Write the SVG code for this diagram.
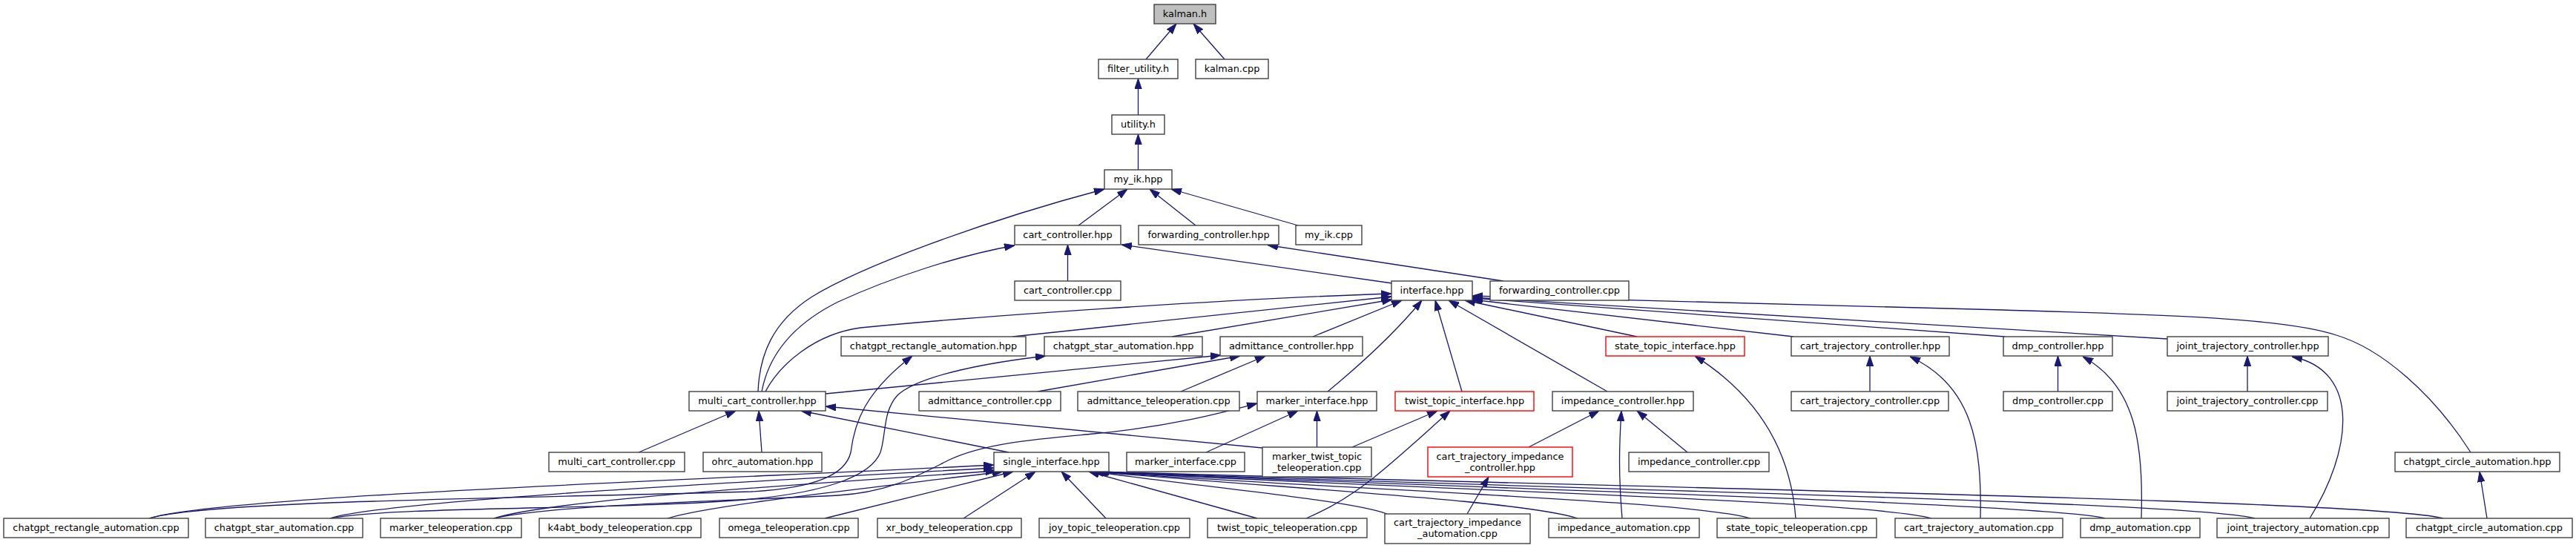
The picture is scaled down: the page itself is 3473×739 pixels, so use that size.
<svg xmlns="http://www.w3.org/2000/svg" width="3473" height="739" viewBox="0 0 3473 739">
<defs>
<style>
.node rect{fill:#ffffff;stroke:#404040;stroke-width:1.4}
.root rect{fill:#bfbfbf}
.red rect{stroke:#ff0000}
.node text{font-family:"DejaVu Sans","Liberation Sans",sans-serif;font-size:12.85px;text-anchor:middle;fill:#000000}
#edges path{fill:none;stroke:#191970;stroke-width:1.3;marker-end:url(#ah)}
</style>
<marker id="ah" viewBox="0 0 14 10" refX="14" refY="5" markerWidth="14" markerHeight="10" markerUnits="userSpaceOnUse" orient="auto">
<path d="M0,0.3 L14,5 L0,9.7 z" fill="#191970" stroke="#191970" stroke-width="1"/>
</marker>
</defs>
<rect x="0" y="0" width="3473" height="739" fill="#ffffff"/>
<g id="edges">
<path d="M1545,80 L1586,32"/>
<path d="M1651,80 L1609,32"/>
<path d="M1534.5,155 L1534.5,106"/>
<path d="M1534.5,229 L1534.5,181"/>
<path d="M1454,304 L1520,255"/>
<path d="M1612,304 L1550,255"/>
<path d="M1750,304 L1579,255"/>
<path d="M1022,528 C1024,480 1040,435 1095,400 C1160,360 1320,300 1489,255"/>
<path d="M1439.5,379 L1439.5,330"/>
<path d="M1877,382 L1512,330"/>
<path d="M1027,528 C1036,480 1068,438 1130,407 C1200,375 1290,345 1368,331"/>
<path d="M2027,379 L1709,330.5"/>
<path d="M1032,528 C1052,490 1100,450 1160,442 C1300,428 1650,403 1876,396"/>
<path d="M1365,454 L1876,400"/>
<path d="M1580,454 L1877,404"/>
<path d="M1770,454 L1890,405"/>
<path d="M1790,528 C1830,495 1880,450 1917,405"/>
<path d="M1971,528 L1935,405"/>
<path d="M2167,528 L1953,405"/>
<path d="M2207,454 L1975,405"/>
<path d="M2418,454 L1984,404"/>
<path d="M2703,454 L1985,402"/>
<path d="M2922,457 L1985,401"/>
<path d="M3331,610 C3280,530 3210,470 3150,452 C3080,428 2900,424 2700,418 L1985,399"/>
<path d="M1113,531 L1646,479"/>
<path d="M1399,528 L1672,480"/>
<path d="M1592,528 L1706,480"/>
<path d="M201,699 C280,675 700,672 1013,663 C1100,658 1140,640 1147,610 C1152,570 1165,530 1230,480"/>
<path d="M445,699 C540,682 850,688 1013,673 C1120,663 1175,640 1187,610 C1195,585 1190,555 1210,533 C1240,505 1340,488 1410,480"/>
<path d="M861,610 L992,554"/>
<path d="M1027,610 L1023,554"/>
<path d="M1360,610 L1080,554"/>
<path d="M1702,604 L1113,548"/>
<path d="M1626,610 L1750,554"/>
<path d="M1775.5,603 L1775.5,554"/>
<path d="M666,699 C750,680 1000,675 1130,668 C1200,664 1240,640 1280,620 C1330,597 1400,592 1474,585 C1580,575 1650,556 1695,544"/>
<path d="M1823,603 L1938,554"/>
<path d="M1761,699 C1830,670 1870,630 1955,554"/>
<path d="M2061,603 L2156,554"/>
<path d="M2187,699 C2182,640 2183,600 2186,554"/>
<path d="M2275,610 L2207,554"/>
<path d="M1978,693 L2007,643"/>
<path d="M2421,699 C2415,620 2380,540 2285,480"/>
<path d="M2521,528 L2521,480"/>
<path d="M2670,699 C2672,600 2660,520 2575,481"/>
<path d="M2774.5,528 L2774.5,480"/>
<path d="M2887,699 C2890,600 2880,520 2808,481"/>
<path d="M3030,528 L3030,480"/>
<path d="M3114,699 C3170,610 3185,500 3090,481"/>
<path d="M3353,699 L3343,636"/>
<path d="M201,699 C300,668 1000,645 1340,627"/>
<path d="M445,699 C520,675 1000,650 1340,631"/>
<path d="M666,699 C740,675 1050,655 1343,635"/>
<path d="M900,699 C960,680 1200,655 1352,636"/>
<path d="M1112,699 L1366,636"/>
<path d="M1299,699 L1396,636"/>
<path d="M1491,699 L1431,636"/>
<path d="M1695,699 L1468,636"/>
<path d="M1870,693 C1820,675 1650,660 1474,636"/>
<path d="M2127,699 C2050,675 1750,660 1476,636"/>
<path d="M2360,699 C2280,675 1800,660 1477,636"/>
<path d="M2604,699 C2520,675 1900,660 1478,636"/>
<path d="M2838,699 C2750,678 2000,660 1479,636"/>
<path d="M3040,699 C2950,676 2100,660 1480,636"/>
<path d="M3294,699 C3200,675 2300,660 1481,636"/>
</g>
<g id="n_kalman_h" class="node root"><rect x="1556" y="6" width="83" height="26"/><text x="1597.5" y="23">kalman.h</text></g>
<g id="n_filter_utility_h" class="node"><rect x="1481" y="80" width="107" height="26"/><text x="1534.5" y="97">filter_utility.h</text></g>
<g id="n_kalman_cpp" class="node"><rect x="1612" y="80" width="98" height="26"/><text x="1661" y="97">kalman.cpp</text></g>
<g id="n_utility_h" class="node"><rect x="1499" y="155" width="71" height="26"/><text x="1534.5" y="172">utility.h</text></g>
<g id="n_my_ik_hpp" class="node"><rect x="1489" y="229" width="91" height="26"/><text x="1534.5" y="246">my_ik.hpp</text></g>
<g id="n_cart_controller_hpp" class="node"><rect x="1368" y="304" width="143" height="26"/><text x="1439.5" y="321">cart_controller.hpp</text></g>
<g id="n_forwarding_controller_hpp" class="node"><rect x="1535" y="304" width="189" height="26"/><text x="1629.5" y="321">forwarding_controller.hpp</text></g>
<g id="n_my_ik_cpp" class="node"><rect x="1747" y="304" width="89" height="26"/><text x="1791.5" y="321">my_ik.cpp</text></g>
<g id="n_cart_controller_cpp" class="node"><rect x="1368" y="379" width="143" height="26"/><text x="1439.5" y="396">cart_controller.cpp</text></g>
<g id="n_interface_hpp" class="node"><rect x="1876" y="379" width="109" height="26"/><text x="1930.5" y="396">interface.hpp</text></g>
<g id="n_forwarding_controller_cpp" class="node"><rect x="2009" y="379" width="187" height="26"/><text x="2102.5" y="396">forwarding_controller.cpp</text></g>
<g id="n_chatgpt_rectangle_automation_hpp" class="node"><rect x="1134" y="454" width="249" height="26"/><text x="1258.5" y="471">chatgpt_rectangle_automation.hpp</text></g>
<g id="n_chatgpt_star_automation_hpp" class="node"><rect x="1408" y="454" width="213" height="26"/><text x="1514.5" y="471">chatgpt_star_automation.hpp</text></g>
<g id="n_admittance_controller_hpp" class="node"><rect x="1645" y="454" width="192" height="26"/><text x="1741" y="471">admittance_controller.hpp</text></g>
<g id="n_state_topic_interface_hpp" class="node red"><rect x="2165" y="454" width="187" height="26"/><text x="2258.5" y="471">state_topic_interface.hpp</text></g>
<g id="n_cart_trajectory_controller_hpp" class="node"><rect x="2415" y="454" width="213" height="26"/><text x="2521.5" y="471">cart_trajectory_controller.hpp</text></g>
<g id="n_dmp_controller_hpp" class="node"><rect x="2701" y="454" width="147" height="26"/><text x="2774.5" y="471">dmp_controller.hpp</text></g>
<g id="n_joint_trajectory_controller_hpp" class="node"><rect x="2922" y="454" width="217" height="26"/><text x="3030.5" y="471">joint_trajectory_controller.hpp</text></g>
<g id="n_multi_cart_controller_hpp" class="node"><rect x="929" y="528" width="184" height="26"/><text x="1021" y="545">multi_cart_controller.hpp</text></g>
<g id="n_admittance_controller_cpp" class="node"><rect x="1239" y="528" width="191" height="26"/><text x="1334.5" y="545">admittance_controller.cpp</text></g>
<g id="n_admittance_teleoperation_cpp" class="node"><rect x="1453" y="528" width="218" height="26"/><text x="1562" y="545">admittance_teleoperation.cpp</text></g>
<g id="n_marker_interface_hpp" class="node"><rect x="1695" y="528" width="161" height="26"/><text x="1775.5" y="545">marker_interface.hpp</text></g>
<g id="n_twist_topic_interface_hpp" class="node red"><rect x="1881" y="528" width="187" height="26"/><text x="1974.5" y="545">twist_topic_interface.hpp</text></g>
<g id="n_impedance_controller_hpp" class="node"><rect x="2093" y="528" width="190" height="26"/><text x="2188" y="545">impedance_controller.hpp</text></g>
<g id="n_cart_trajectory_controller_cpp" class="node"><rect x="2415" y="528" width="212" height="26"/><text x="2521" y="545">cart_trajectory_controller.cpp</text></g>
<g id="n_dmp_controller_cpp" class="node"><rect x="2701" y="528" width="147" height="26"/><text x="2774.5" y="545">dmp_controller.cpp</text></g>
<g id="n_joint_trajectory_controller_cpp" class="node"><rect x="2922" y="528" width="216" height="26"/><text x="3030" y="545">joint_trajectory_controller.cpp</text></g>
<g id="n_multi_cart_controller_cpp" class="node"><rect x="740" y="610" width="183" height="26"/><text x="831.5" y="627">multi_cart_controller.cpp</text></g>
<g id="n_ohrc_automation_hpp" class="node"><rect x="948" y="610" width="160" height="26"/><text x="1028" y="627">ohrc_automation.hpp</text></g>
<g id="n_single_interface_hpp" class="node"><rect x="1340" y="610" width="155" height="26"/><text x="1417.5" y="627">single_interface.hpp</text></g>
<g id="n_marker_interface_cpp" class="node"><rect x="1519" y="610" width="159" height="26"/><text x="1598.5" y="627">marker_interface.cpp</text></g>
<g id="n_marker_twist_topic_teleoperation_cpp" class="node"><rect x="1702" y="603" width="147" height="40"/><text x="1775.5" y="619.5">marker_twist_topic</text><text x="1775.5" y="634.5">_teleoperation.cpp</text></g>
<g id="n_cart_trajectory_impedance_controller_hpp" class="node red"><rect x="1925" y="603" width="195" height="40"/><text x="2022.5" y="619.5">cart_trajectory_impedance</text><text x="2022.5" y="634.5">_controller.hpp</text></g>
<g id="n_impedance_controller_cpp" class="node"><rect x="2196" y="610" width="189" height="26"/><text x="2290.5" y="627">impedance_controller.cpp</text></g>
<g id="n_chatgpt_circle_automation_hpp" class="node"><rect x="3229" y="610" width="222" height="26"/><text x="3340" y="627">chatgpt_circle_automation.hpp</text></g>
<g id="n_chatgpt_rectangle_automation_cpp" class="node"><rect x="5" y="699" width="249" height="26"/><text x="129.5" y="716">chatgpt_rectangle_automation.cpp</text></g>
<g id="n_chatgpt_star_automation_cpp" class="node"><rect x="277" y="699" width="212" height="26"/><text x="383" y="716">chatgpt_star_automation.cpp</text></g>
<g id="n_marker_teleoperation_cpp" class="node"><rect x="513" y="699" width="190" height="26"/><text x="608" y="716">marker_teleoperation.cpp</text></g>
<g id="n_k4abt_body_teleoperation_cpp" class="node"><rect x="727" y="699" width="218" height="26"/><text x="836" y="716">k4abt_body_teleoperation.cpp</text></g>
<g id="n_omega_teleoperation_cpp" class="node"><rect x="970" y="699" width="187" height="26"/><text x="1063.5" y="716">omega_teleoperation.cpp</text></g>
<g id="n_xr_body_teleoperation_cpp" class="node"><rect x="1183" y="699" width="194" height="26"/><text x="1280" y="716">xr_body_teleoperation.cpp</text></g>
<g id="n_joy_topic_teleoperation_cpp" class="node"><rect x="1401" y="699" width="203" height="26"/><text x="1502.5" y="716">joy_topic_teleoperation.cpp</text></g>
<g id="n_twist_topic_teleoperation_cpp" class="node"><rect x="1628" y="699" width="215" height="26"/><text x="1735.5" y="716">twist_topic_teleoperation.cpp</text></g>
<g id="n_cart_trajectory_impedance_automation_cpp" class="node"><rect x="1867" y="693" width="196" height="40"/><text x="1965" y="709">cart_trajectory_impedance</text><text x="1965" y="724">_automation.cpp</text></g>
<g id="n_impedance_automation_cpp" class="node"><rect x="2088" y="699" width="203" height="26"/><text x="2189.5" y="716">impedance_automation.cpp</text></g>
<g id="n_state_topic_teleoperation_cpp" class="node"><rect x="2315" y="699" width="215" height="26"/><text x="2422.5" y="716">state_topic_teleoperation.cpp</text></g>
<g id="n_cart_trajectory_automation_cpp" class="node"><rect x="2555" y="699" width="226" height="26"/><text x="2668" y="716">cart_trajectory_automation.cpp</text></g>
<g id="n_dmp_automation_cpp" class="node"><rect x="2805" y="699" width="161" height="26"/><text x="2885.5" y="716">dmp_automation.cpp</text></g>
<g id="n_joint_trajectory_automation_cpp" class="node"><rect x="2989" y="699" width="232" height="26"/><text x="3105" y="716">joint_trajectory_automation.cpp</text></g>
<g id="n_chatgpt_circle_automation_cpp" class="node"><rect x="3244" y="699" width="224" height="26"/><text x="3356" y="716">chatgpt_circle_automation.cpp</text></g>
</svg>
